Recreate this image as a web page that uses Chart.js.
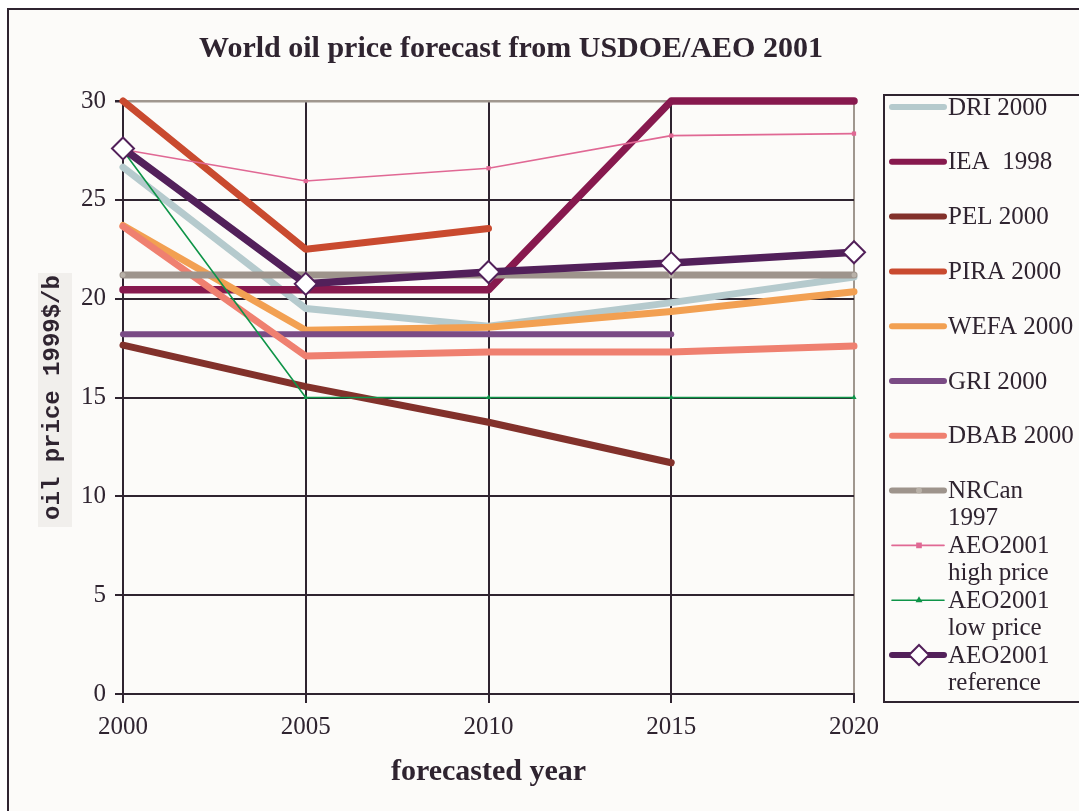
<!DOCTYPE html>
<html>
<head>
<meta charset="utf-8">
<script src="https://cdn.jsdelivr.net/npm/chart.js@4/dist/chart.umd.min.js"></script>
<style>
html, body { margin: 0; padding: 0; background: #fff; }
#graph { display: block; }
</style>
</head>
<body>
<canvas id="graph" width="1079" height="811"></canvas>
<script>
// data
let years = ['2000', '2005', '2010', '2015', '2020'];
let dri = [26.65, 19.5, 18.6, 19.8, 21.1];
let iea = [20.45, 20.45, 20.45, 30, 30];
let pel = [17.65, 15.55, 13.75, 11.7, null];
let pira = [30, 22.5, 23.55, null, null];
let wefa = [23.7, 18.4, 18.55, 19.35, 20.35];
let gri = [18.2, 18.2, 18.2, 18.2, null];
let dbab = [23.65, 17.1, 17.3, 17.3, 17.6];
let nrcan = [21.2, 21.2, 21.2, 21.2, 21.2];
let aeoHigh = [27.55, 25.95, 26.6, 28.25, 28.35];
let aeoLow = [27.5, 15, 15, 15, 15];
let aeoRef = [27.6, 20.75, 21.35, 21.8, 22.35];

let seriesNames = ['DRI 2000', 'IEA  1998', 'PEL 2000', 'PIRA 2000', 'WEFA 2000', 'GRI 2000',
  'DBAB 2000', 'NRCan\n1997', 'AEO2001\nhigh price', 'AEO2001\nlow price', 'AEO2001\nreference'];

const ink = '#2f2430';
const edge = '#a0978f';
const paper = '#fcfbf9';
const serif = "'Liberation Serif', 'Times New Roman', serif";

function serie(i, data, color, width, extra) {
  return Object.assign({
    label: seriesNames[i],
    data: data,
    borderColor: color,
    backgroundColor: color,
    borderWidth: width,
    pointRadius: 0,
    pointHoverRadius: 0,
    borderCapStyle: 'round',
    borderJoinStyle: 'round',
    tension: 0,
    spanGaps: false,
    clip: false,
    order: -i
  }, extra || {});
}

let datasets = [
  serie(0, dri, '#b5cacd', 7),
  serie(1, iea, '#87194e', 7.5),
  serie(2, pel, '#82312b', 7),
  serie(3, pira, '#c94a2f', 7),
  serie(4, wefa, '#f2a052', 7),
  serie(5, gri, '#7a4b85', 6),
  serie(6, dbab, '#ef8070', 7),
  serie(7, nrcan, '#9e948c', 7, {pointStyle: 'circle', pointRadius: 2.5, pointBackgroundColor: '#b9b1a8', pointBorderWidth: 0, legendMark: 3}),
  serie(8, aeoHigh, '#e06894', 1.6, {pointStyle: 'rect', pointRadius: 3, pointBackgroundColor: '#e06894', pointBorderWidth: 0, legendMark: 4}),
  serie(9, aeoLow, '#0e9448', 1.6, {pointStyle: 'triangle', pointRadius: 3, pointBackgroundColor: '#0e9448', pointBorderWidth: 0, legendMark: 4}),
  serie(10, aeoRef, '#52205a', 7.5, {pointStyle: 'rectRot', pointRadius: 11, pointBackgroundColor: '#ffffff', pointBorderColor: '#52205a', pointBorderWidth: 2, legendMark: 10})
];

// frame, paper colour and the title
const framePlugin = {
  id: 'frame',
  beforeDraw(chart) {
    const ctx = chart.ctx;
    ctx.save();
    ctx.fillStyle = '#ffffff';
    ctx.fillRect(0, 0, chart.width, chart.height);
    ctx.fillStyle = paper;
    ctx.fillRect(8, 9, chart.width, chart.height);
    ctx.fillStyle = '#f1efec';
    ctx.fillRect(38, 273, 34, 254);
    ctx.strokeStyle = ink;
    ctx.lineWidth = 2;
    ctx.beginPath();
    ctx.moveTo(8, chart.height + 5);
    ctx.lineTo(8, 9);
    ctx.lineTo(chart.width + 5, 9);
    ctx.stroke();
    ctx.fillStyle = ink;
    ctx.font = 'bold 30px ' + serif;
    ctx.textAlign = 'center';
    ctx.textBaseline = 'middle';
    ctx.fillText('World oil price forecast from USDOE/AEO 2001', 511, 49);
    ctx.restore();
  }
};

// legend box on the right, with two-line labels
const legendPlugin = {
  id: 'sideLegend',
  afterDraw(chart) {
    const ctx = chart.ctx;
    ctx.save();
    ctx.strokeStyle = ink;
    ctx.lineWidth = 2;
    ctx.beginPath();
    ctx.moveTo(chart.width + 5, 95);
    ctx.lineTo(884, 95);
    ctx.lineTo(884, 702);
    ctx.lineTo(chart.width + 5, 702);
    ctx.stroke();
    chart.data.datasets.forEach((ds, i) => {
      const y = 107 + i * 54.8;
      ctx.strokeStyle = ds.borderColor;
      ctx.lineWidth = Math.min(ds.borderWidth, 6);
      ctx.lineCap = 'round';
      ctx.beginPath();
      ctx.moveTo(892, y);
      ctx.lineTo(944, y);
      ctx.stroke();
      if (ds.legendMark) {
        ctx.fillStyle = ds.pointBackgroundColor;
        ctx.strokeStyle = ds.pointBorderColor || ds.borderColor;
        ctx.lineWidth = ds.pointBorderWidth;
        Chart.helpers.drawPoint(ctx, {pointStyle: ds.pointStyle, radius: ds.legendMark, rotation: 0, borderWidth: ds.pointBorderWidth}, 919, y);
      }
      ctx.fillStyle = ink;
      ctx.font = '25px ' + serif;
      ctx.textAlign = 'left';
      ctx.textBaseline = 'middle';
      ds.label.split('\n').forEach((t, k) => ctx.fillText(t, 948, y + 1 + k * 27));
    });
    ctx.restore();
  }
};

var ctx = document.getElementById('graph');

const config = {
  type: 'line',
  data: { labels: years, datasets: datasets },
  options: {
    responsive: false,
    animation: false,
    events: [],
    layout: { padding: { top: 101, right: 225, bottom: 0, left: 0 } },
    plugins: { legend: { display: false }, title: { display: false }, tooltip: { enabled: false } },
    scales: {
      x: {
        offset: false,
        grid: {
          color: c => (c.index === years.length - 1 ? edge : ink),
          tickColor: ink,
          lineWidth: 2,
          tickLength: 9
        },
        border: { color: ink, width: 2 },
        ticks: { color: ink, font: { family: serif, size: 25 }, padding: 9, maxRotation: 0, autoSkip: false },
        title: {
          display: true,
          text: 'forecasted year',
          color: ink,
          font: { family: serif, size: 30, weight: 'bold' },
          padding: { top: 0, bottom: 21 }
        },
        afterFit: s => { s.height = 117; }
      },
      y: {
        min: 0,
        max: 30,
        grid: {
          color: c => (c.tick && c.tick.value === 30 ? edge : ink),
          tickColor: ink,
          lineWidth: c => (c.tick && c.tick.value === 30 ? 2.5 : 2),
          tickLength: 8
        },
        border: { color: ink, width: 2 },
        ticks: { stepSize: 5, color: ink, font: { family: serif, size: 25 }, padding: 9 },
        title: {
          display: true,
          text: 'oil price 1999$/b',
          color: ink,
          font: { family: "'Liberation Mono', 'Courier New', monospace", size: 24, weight: 'bold' },
          padding: { top: 39, bottom: 0 }
        },
        afterFit: s => { s.width = 123; }
      }
    }
  },
  plugins: [framePlugin, legendPlugin]
};

var myChart = new Chart(ctx, config);
</script>
</body>
</html>
